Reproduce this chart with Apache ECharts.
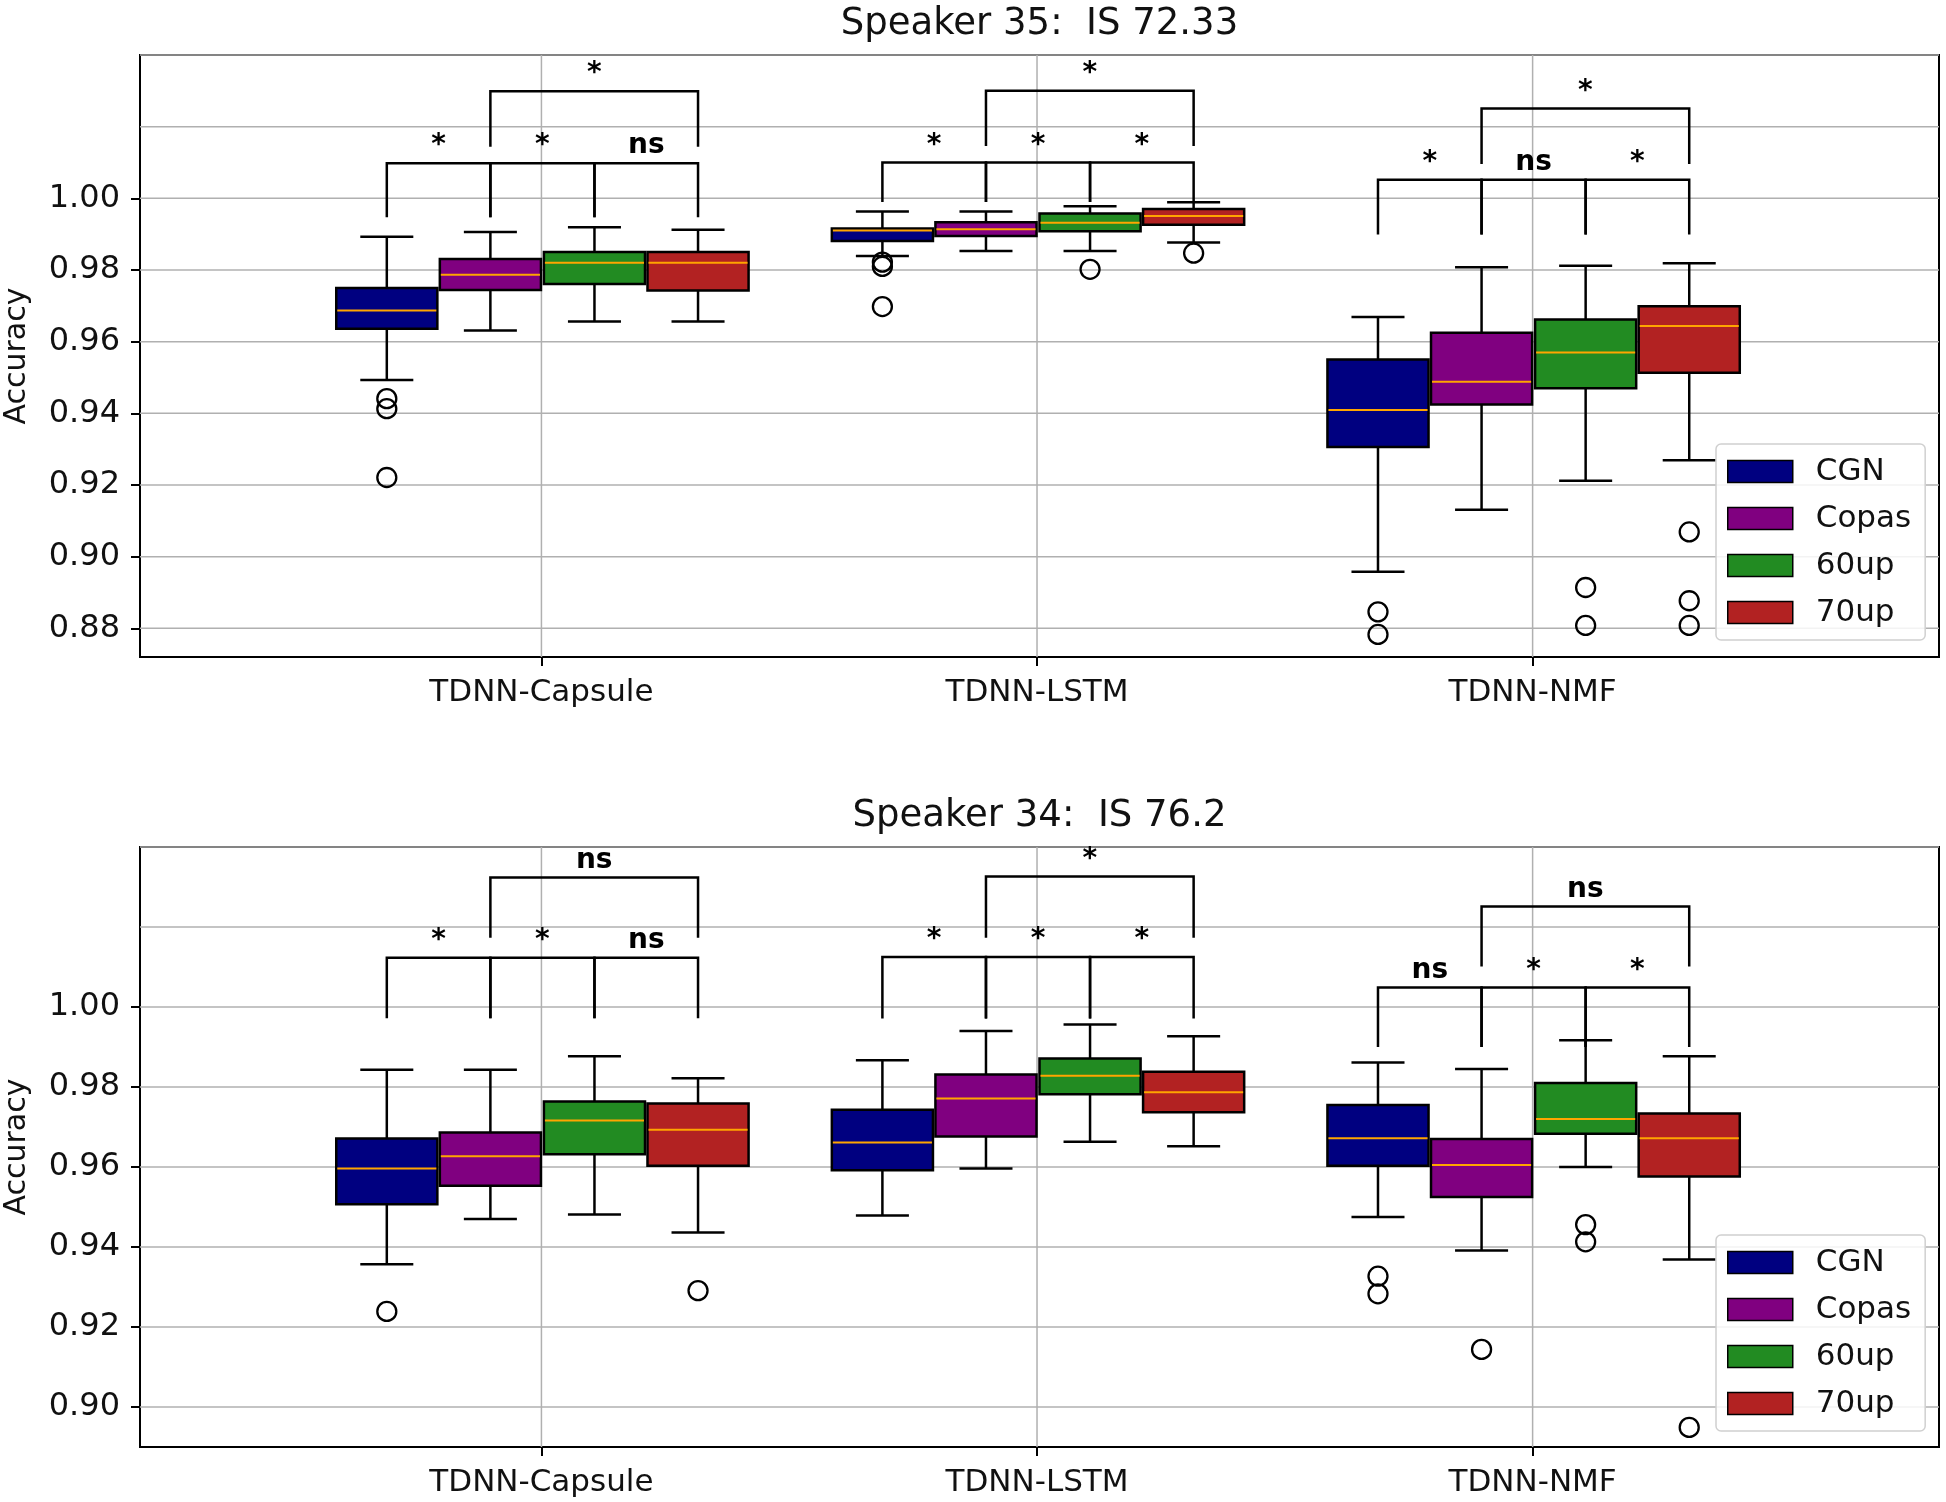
<!DOCTYPE html>
<html>
<head>
<meta charset="utf-8">
<script src="https://cdn.jsdelivr.net/npm/echarts@6/dist/echarts.min.js"></script>
<style>html,body{margin:0;padding:0;background:#fff}#c{width:1946px;height:1502px}</style>
</head>
<body>
<div id="c"></div>
<script>
// ---------------- DATA ----------------
const categories = ['TDNN-Capsule', 'TDNN-LSTM', 'TDNN-NMF'];
const hues = ['CGN', 'Copas', '60up', '70up'];
const titles = ['Speaker 35:  IS 72.33', 'Speaker 34:  IS 76.2'];

// tick labels / gridlines
const s35TickLabels = [0.88, 0.90, 0.92, 0.94, 0.96, 0.98, 1.00];
const s35GridValues = [0.88, 0.90, 0.92, 0.94, 0.96, 0.98, 1.00, 1.02, 1.04];
const s34TickLabels = [0.90, 0.92, 0.94, 0.96, 0.98, 1.00];
const s34GridValues = [0.90, 0.92, 0.94, 0.96, 0.98, 1.00, 1.02, 1.04];

// box stats per category: [whiskerLow, Q1, median, Q3, whiskerHigh]
const s35CGN   = [[0.9493, 0.9636, 0.9687, 0.9750, 0.9893], [0.9839, 0.9881, 0.9910, 0.9916, 0.9963], [0.8958, 0.9306, 0.9409, 0.9550, 0.9669]];
const s35Copas = [[0.9631, 0.9744, 0.9787, 0.9831, 0.9906], [0.9853, 0.9895, 0.9914, 0.9933, 0.9963], [0.9131, 0.9425, 0.9488, 0.9625, 0.9808]];
const s35Up60  = [[0.9656, 0.9761, 0.9820, 0.9850, 0.9919], [0.9853, 0.9908, 0.9932, 0.9958, 0.9978], [0.9212, 0.9470, 0.9570, 0.9662, 0.9812]];
const s35Up70  = [[0.9656, 0.9743, 0.9820, 0.9850, 0.9912], [0.9877, 0.9926, 0.9951, 0.9970, 0.9989], [0.9269, 0.9513, 0.9644, 0.9699, 0.9819]];

const s34CGN   = [[0.9357, 0.9507, 0.9596, 0.9671, 0.9843], [0.9479, 0.9592, 0.9661, 0.9743, 0.9867], [0.9475, 0.9603, 0.9672, 0.9755, 0.9861]];
const s34Copas = [[0.9470, 0.9553, 0.9627, 0.9686, 0.9843], [0.9596, 0.9676, 0.9771, 0.9831, 0.9940], [0.9391, 0.9525, 0.9605, 0.9670, 0.9845]];
const s34Up60  = [[0.9481, 0.9632, 0.9716, 0.9764, 0.9877], [0.9663, 0.9782, 0.9828, 0.9871, 0.9956], [0.9600, 0.9683, 0.9720, 0.9810, 0.9917]];
const s34Up70  = [[0.9436, 0.9603, 0.9693, 0.9759, 0.9822], [0.9652, 0.9737, 0.9787, 0.9838, 0.9927], [0.9369, 0.9576, 0.9672, 0.9734, 0.9877]];

// outliers per category
const s35CGNOut   = [[0.9441, 0.9413, 0.9221], [0.9822, 0.9810, 0.9698], [0.8846, 0.8783]];
const s35CopasOut = [[], [], []];
const s35Up60Out  = [[], [0.9802], [0.8914, 0.8808]];
const s35Up70Out  = [[], [0.9847], [0.9069, 0.8877, 0.8808]];

const s34CGNOut   = [[0.9239], [], [0.9327, 0.9283]];
const s34CopasOut = [[], [], [0.9144]];
const s34Up60Out  = [[], [], [0.9456, 0.9413]];
const s34Up70Out  = [[0.9291], [], [0.8949]];

// significance annotations: lower labels (CGN-Copas, Copas-60up, 60up-70up), upper label (Copas-70up)
const s35LowerLabels = [['*', '*', 'ns'], ['*', '*', '*'], ['*', 'ns', '*']];
const s35UpperLabels = ['*', '*', '*'];
const s34LowerLabels = [['*', '*', 'ns'], ['*', '*', '*'], ['ns', '*', '*']];
const s34UpperLabels = ['ns', '*', 'ns'];
// bracket levels per category: [lowerLine, lowerTickBottom, upperLine, upperTickBottom]
const s35BracketLevels = [[1.0098, 0.9947, 1.0299, 1.0144], [1.0100, 0.9990, 1.0300, 1.0146], [1.0052, 0.9899, 1.0251, 1.0096]];
const s34BracketLevels = [[1.0123, 0.9972, 1.0324, 1.0173], [1.0125, 0.9971, 1.0326, 1.0173], [1.0049, 0.9900, 1.0251, 1.0101]];

// ---------------- STYLE / LAYOUT ----------------
const hueColors = ['#000080', '#800080', '#228B22', '#B22222'];
const hueOffsets = [-0.312, -0.103, 0.107, 0.316];
const BOX_W = 0.204, CAP_W = 0.107;
const FONT = 'DejaVu Sans';
const TXT = '#111';

const panels = [
  { stats: [s35CGN, s35Copas, s35Up60, s35Up70], outs: [s35CGNOut, s35CopasOut, s35Up60Out, s35Up70Out],
    lower: s35LowerLabels, upper: s35UpperLabels, levels: s35BracketLevels,
    ticks: s35TickLabels, grid: s35GridValues, ymin: 0.872, ymax: 1.040,
    rect: { left: 140, top: 55, width: 1799, height: 602 }, legendTop: 444, titleY: 24 },
  { stats: [s34CGN, s34Copas, s34Up60, s34Up70], outs: [s34CGNOut, s34CopasOut, s34Up60Out, s34Up70Out],
    lower: s34LowerLabels, upper: s34UpperLabels, levels: s34BracketLevels,
    ticks: s34TickLabels, grid: s34GridValues, ymin: 0.890, ymax: 1.040,
    rect: { left: 140, top: 847, width: 1799, height: 600 }, legendTop: 1235, titleY: 816 }
];

function renderBox(params, api) {
  const x = api.value(0);
  const c = api.coord([x, api.value(3)]);
  const cx = c[0], pMed = c[1];
  const pLo = api.coord([x, api.value(1)])[1];
  const pQ1 = api.coord([x, api.value(2)])[1];
  const pQ3 = api.coord([x, api.value(4)])[1];
  const pHi = api.coord([x, api.value(5)])[1];
  const bw = api.size([BOX_W, 0])[0];
  const cw = api.size([CAP_W, 0])[0];
  const ls = { stroke: '#000', lineWidth: 2.5 };
  return { type: 'group', children: [
    { type: 'line', shape: { x1: cx, y1: pQ1, x2: cx, y2: pLo }, style: ls },
    { type: 'line', shape: { x1: cx, y1: pQ3, x2: cx, y2: pHi }, style: ls },
    { type: 'line', shape: { x1: cx - cw / 2, y1: pLo, x2: cx + cw / 2, y2: pLo }, style: ls },
    { type: 'line', shape: { x1: cx - cw / 2, y1: pHi, x2: cx + cw / 2, y2: pHi }, style: ls },
    { type: 'rect', shape: { x: cx - bw / 2, y: pQ3, width: bw, height: pQ1 - pQ3 },
      style: { fill: api.visual('color'), stroke: '#000', lineWidth: 2.5 } },
    { type: 'line', shape: { x1: cx - bw / 2 + 1, y1: pMed, x2: cx + bw / 2 - 1, y2: pMed },
      style: { stroke: '#ffa500', lineWidth: 2 } }
  ]};
}

const option = {
  animation: false,
  backgroundColor: '#fff',
  graphic: [],
  grid: [], xAxis: [], yAxis: [], legend: [], series: []
};

panels.forEach((p, gi) => {
  option.graphic.push({ type: 'text', x: p.rect.left + p.rect.width / 2, y: p.titleY,
    style: { text: titles[gi], font: '37px "DejaVu Sans"', fill: TXT, textAlign: 'center', textVerticalAlign: 'middle' } });

  option.grid.push(Object.assign({ show: true, borderColor: '#000', borderWidth: 2, backgroundColor: 'transparent',
    containLabel: false, outerBoundsMode: 'none' }, p.rect));
  option.xAxis.push({
    type: 'value', gridIndex: gi, min: -0.81, max: 2.82,
    axisLine: { show: false, onZero: false }, splitLine: { show: false },
    axisTick: { show: true, length: 9, lineStyle: { color: '#000', width: 2 }, customValues: [0, 1, 2] },
    axisLabel: { customValues: [0, 1, 2], margin: 20, fontFamily: FONT, fontSize: 31, color: TXT,
      formatter: v => categories[Math.round(v)] }
  });
  option.yAxis.push({
    type: 'value', gridIndex: gi, min: p.ymin, max: p.ymax,
    name: 'Accuracy', nameLocation: 'middle', nameGap: 108,
    nameTextStyle: { fontFamily: FONT, fontSize: 30, color: TXT },
    axisLine: { show: false, onZero: false }, splitLine: { show: false },
    axisTick: { show: true, length: 9, lineStyle: { color: '#000', width: 2 }, customValues: p.ticks },
    axisLabel: { customValues: p.ticks, margin: 20, fontFamily: FONT, fontSize: 32, color: TXT,
      formatter: v => Number(v).toFixed(2) }
  });
  option.legend.push({
    data: hues.map((h, i) => ({ name: h, itemStyle: { color: hueColors[i], borderColor: '#000', borderWidth: 1.5 } })),
    orient: 'vertical', left: 1716, top: p.legendTop, icon: 'rect',
    itemWidth: 65, itemHeight: 22, itemGap: 16, padding: [12, 14, 12, 11],
    backgroundColor: 'rgba(255,255,255,0.85)', borderColor: '#d0d0d0', borderWidth: 1.5, borderRadius: 5,
    textStyle: { fontFamily: FONT, fontSize: 31, color: TXT, lineHeight: 31, padding: [0, 0, 0, 18] },
    selectedMode: false, z: 10
  });

  // gridlines (horizontal)
  option.series.push({
    type: 'custom', xAxisIndex: gi, yAxisIndex: gi, z: 1, silent: true,
    data: p.grid.map(v => [v]), encode: { y: 0 },
    renderItem: (params, api) => {
      const cs = params.coordSys;
      const y = api.coord([0, api.value(0)])[1];
      return { type: 'line', shape: { x1: cs.x, y1: y, x2: cs.x + cs.width, y2: y }, style: { stroke: '#b0b0b0', lineWidth: 1.5 } };
    }
  });
  // gridlines (vertical at categories)
  option.series.push({
    type: 'custom', xAxisIndex: gi, yAxisIndex: gi, z: 1, silent: true,
    data: categories.map((c, i) => [i]), encode: { x: 0 },
    renderItem: (params, api) => {
      const cs = params.coordSys;
      const x = api.coord([api.value(0), p.ymin])[0];
      return { type: 'line', shape: { x1: x, y1: cs.y, x2: x, y2: cs.y + cs.height }, style: { stroke: '#b0b0b0', lineWidth: 1.5 } };
    }
  });

  // boxes
  hues.forEach((h, hi) => {
    option.series.push({
      name: h, type: 'custom', xAxisIndex: gi, yAxisIndex: gi, z: 3,
      itemStyle: { color: hueColors[hi] },
      data: p.stats[hi].map((s, ci) => [ci + hueOffsets[hi]].concat(s)),
      encode: { x: 0, y: [1, 2, 3, 4, 5] },
      renderItem: renderBox
    });
  });
  // outliers
  hues.forEach((h, hi) => {
    const pts = [];
    p.outs[hi].forEach((arr, ci) => arr.forEach(v => pts.push([ci + hueOffsets[hi], v])));
    option.series.push({
      name: h + ' outliers', type: 'scatter', xAxisIndex: gi, yAxisIndex: gi, z: 4,
      symbol: 'circle', symbolSize: 19, data: pts,
      itemStyle: { color: 'rgba(255,255,255,0)', borderColor: '#000', borderWidth: 2.3, opacity: 1 }
    });
  });

  // significance brackets
  const brackets = [];
  const bracketLabels = [];
  categories.forEach((c, ci) => {
    const lv = p.levels[ci];
    [[0, 1], [1, 2], [2, 3]].forEach((pair, k) => {
      brackets.push([ci + hueOffsets[pair[0]], ci + hueOffsets[pair[1]], lv[0], lv[1]]);
      bracketLabels.push(p.lower[ci][k]);
    });
    brackets.push([ci + hueOffsets[1], ci + hueOffsets[3], lv[2], lv[3]]);
    bracketLabels.push(p.upper[ci]);
  });
  option.series.push({
    type: 'custom', xAxisIndex: gi, yAxisIndex: gi, z: 5, silent: true,
    data: brackets, encode: { x: [0, 1], y: [2, 3] },
    renderItem: (params, api) => {
      const a = api.coord([api.value(0), api.value(2)]);
      const b = api.coord([api.value(1), api.value(2)]);
      const yb = api.coord([api.value(0), api.value(3)])[1];
      const lbl = bracketLabels[params.dataIndex];
      return { type: 'group', children: [
        { type: 'polyline', shape: { points: [[a[0], yb], [a[0], a[1]], [b[0], b[1]], [b[0], yb]] },
          style: { stroke: '#000', lineWidth: 2.5, fill: 'none' } },
        { type: 'text', x: (a[0] + b[0]) / 2, y: a[1] - 3,
          style: { text: lbl, font: 'bold 28px "DejaVu Sans"', fill: '#000', textAlign: 'center', textVerticalAlign: 'bottom' } }
      ]};
    }
  });
});

const chart = echarts.init(document.getElementById('c'), null, { renderer: 'canvas' });
chart.setOption(option);
</script>
</body>
</html>
